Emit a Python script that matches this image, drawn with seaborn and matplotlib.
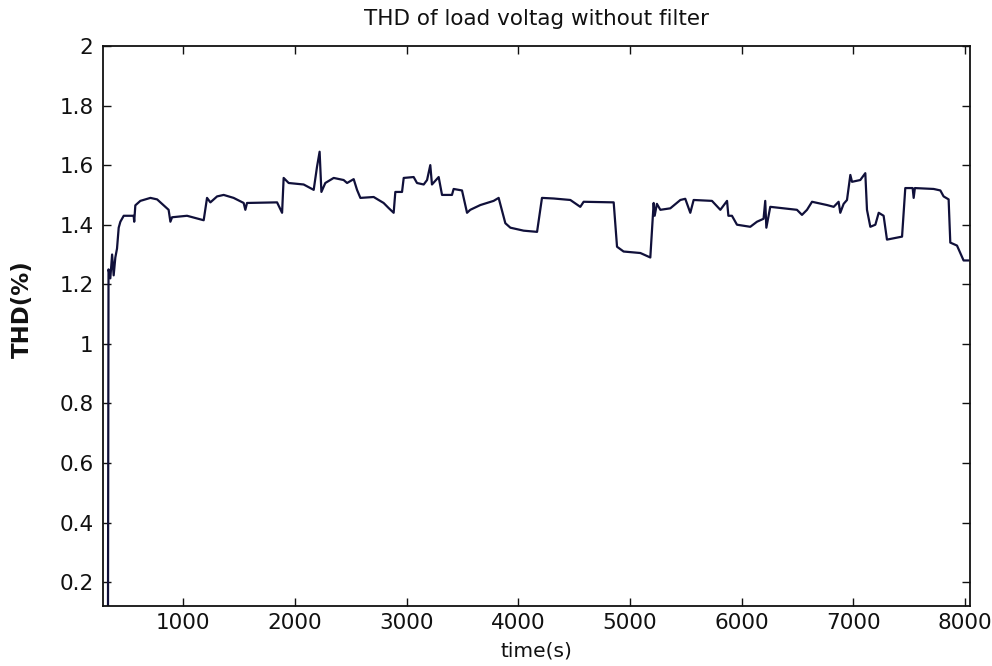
import numpy as np
import pandas as pd
import matplotlib
matplotlib.use("Agg")
import matplotlib.pyplot as plt
import seaborn as sns

# THD readings
time_s = [325, 330, 346, 362, 376, 391, 406, 421, 436, 466, 555, 560, 570, 615, 705, 765,
          824, 868, 884, 899, 1033, 1182, 1212, 1242, 1302, 1361, 1450, 1540, 1555, 1570,
          1839, 1884, 1898, 1943, 2077, 2167, 2197, 2220, 2236, 2271, 2346, 2435, 2466,
          2525, 2555, 2585, 2704, 2793, 2838, 2883, 2898, 2958, 2973, 3062, 3092, 3152,
          3182, 3211, 3226, 3286, 3316, 3405, 3420, 3495, 3540, 3569, 3659, 3778, 3823,
          3883, 3928, 4047, 4167, 4211, 4315, 4465, 4554, 4584, 4853, 4883, 4942, 5092,
          5181, 5211, 5220, 5240, 5271, 5360, 5450, 5494, 5539, 5569, 5733, 5808, 5868,
          5880, 5912, 5957, 6076, 6136, 6195, 6210, 6220, 6255, 6374, 6494, 6539, 6584,
          6629, 6763, 6823, 6867, 6882, 6912, 6942, 6972, 6987, 7061, 7106, 7121, 7151,
          7196, 7226, 7270, 7300, 7435, 7464, 7530, 7539, 7550, 7718, 7778, 7807, 7852,
          7867, 7927, 7986, 8031]
thd_pct = [0.05, 1.25, 1.22, 1.30, 1.23, 1.29, 1.32, 1.39, 1.41, 1.43, 1.43, 1.41, 1.465,
           1.48, 1.49, 1.485, 1.465, 1.45, 1.41, 1.425, 1.43, 1.415, 1.49, 1.475, 1.495,
           1.50, 1.49, 1.473, 1.45, 1.473, 1.475, 1.44, 1.557, 1.54, 1.535, 1.517, 1.595,
           1.645, 1.51, 1.54, 1.557, 1.55, 1.54, 1.553, 1.517, 1.49, 1.493, 1.473, 1.456,
           1.44, 1.51, 1.51, 1.557, 1.56, 1.54, 1.535, 1.55, 1.60, 1.535, 1.56, 1.50, 1.50,
           1.52, 1.515, 1.44, 1.45, 1.466, 1.48, 1.49, 1.405, 1.39, 1.38, 1.376, 1.49,
           1.488, 1.483, 1.46, 1.477, 1.475, 1.326, 1.31, 1.305, 1.29, 1.473, 1.43, 1.47,
           1.45, 1.455, 1.483, 1.487, 1.44, 1.483, 1.48, 1.45, 1.48, 1.43, 1.43, 1.40,
           1.393, 1.41, 1.42, 1.48, 1.39, 1.46, 1.455, 1.45, 1.433, 1.45, 1.477, 1.466,
           1.46, 1.477, 1.44, 1.47, 1.483, 1.567, 1.544, 1.55, 1.573, 1.45, 1.393, 1.40,
           1.44, 1.43, 1.35, 1.36, 1.523, 1.523, 1.49, 1.523, 1.52, 1.515, 1.495, 1.485,
           1.34, 1.33, 1.28, 1.28]

df = pd.DataFrame({"time": time_s, "thd": thd_pct})

sns.set_style("ticks")
plt.rcParams["font.family"] = ["DejaVu Sans"]
plt.rcParams["text.color"] = "#111111"
plt.rcParams["axes.labelcolor"] = "#111111"

fig = plt.figure(figsize=(9.92, 6.66), dpi=100)
ax = fig.add_axes([0.104, 0.090, 0.874, 0.841])

sns.lineplot(data=df, x="time", y="thd", ax=ax, color="#10103a", linewidth=1.6,
             sort=False, estimator=None)

ax.set_xlim(282, 8045)
ax.set_ylim(0.12, 2.0)
ax.set_xticks([1000, 2000, 3000, 4000, 5000, 6000, 7000, 8000])
ax.set_yticks([0.2, 0.4, 0.6, 0.8, 1.0, 1.2, 1.4, 1.6, 1.8, 2.0])
ax.set_yticklabels(["0.2", "0.4", "0.6", "0.8", "1", "1.2", "1.4", "1.6", "1.8", "2"])
ax.tick_params(direction="in", length=6, width=1, labelsize=15.5, top=True, right=True,
               colors="#111111")
ax.tick_params(axis="x", pad=5)
ax.tick_params(axis="y", pad=7)
for s in ax.spines.values():
    s.set_linewidth(1.3)
    s.set_color("#111111")

ax.set_title("THD of load voltag without filter", fontsize=15.5, pad=15)
ax.set_xlabel("time(s)", fontsize=14.5)
ax.xaxis.set_label_coords(0.5, -0.063)
ax.set_ylabel("THD(%)", fontsize=16.5, fontweight="bold")
ax.yaxis.set_label_coords(-0.08, 0.53)

fig.savefig("out.png", dpi=100)
